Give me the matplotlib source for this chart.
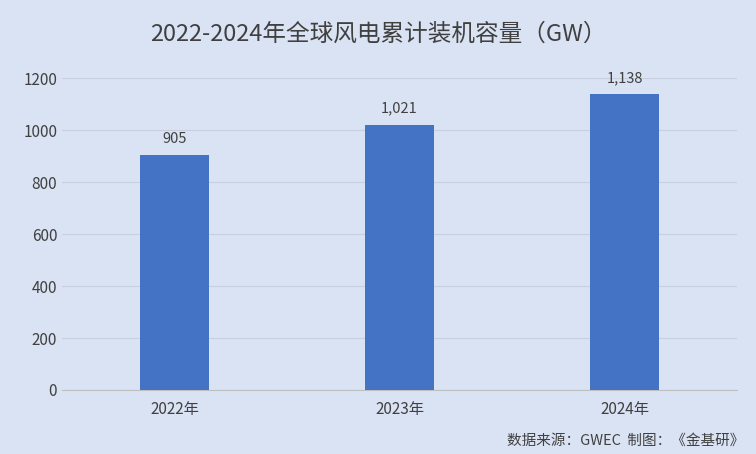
import matplotlib.pyplot as plt

plt.rcParams['font.family'] = ['Noto Sans CJK SC', 'DejaVu Sans']

years = ['2022年', '2023年', '2024年']
capacity = [905, 1021, 1138]
yticks = [0, 200, 400, 600, 800, 1000, 1200]

bg = '#DAE3F3'
fig = plt.figure(figsize=(7.56, 4.54), dpi=100, facecolor=bg)
ax = fig.add_axes([0.082, 0.141, 0.893, 0.687], facecolor=bg)

x = range(len(years))
ax.bar(x, capacity, width=0.31, color='#4472C4', zorder=3)
for i, v in zip(x, capacity):
    ax.text(i, v + 35, f'{v:,}', ha='center', va='bottom', fontsize=10.5, color='#404040')

ax.set_xlim(-0.5, 2.5)
ax.set_ylim(0, 1200)
ax.set_yticks(yticks)
ax.set_xticks(list(x))
ax.set_xticklabels(years)
ax.tick_params(length=0, labelsize=11, colors='#404040')
ax.tick_params(axis='x', pad=8)
ax.grid(axis='y', color='#C8D0DE', linewidth=0.8, zorder=0)
for s in ['top', 'right', 'left']:
    ax.spines[s].set_visible(False)
ax.spines['bottom'].set_color('#BFBFBF')

fig.text(0.5, 0.925, '2022-2024年全球风电累计装机容量（GW）', ha='center', va='center',
         fontsize=17, color='#404040', fontweight='medium')
fig.text(0.985, 0.03, '数据来源：GWEC  制图：《金基研》', ha='right', va='center',
         fontsize=10.5, color='#404040')

fig.savefig('out.png', dpi=100, facecolor=bg)
